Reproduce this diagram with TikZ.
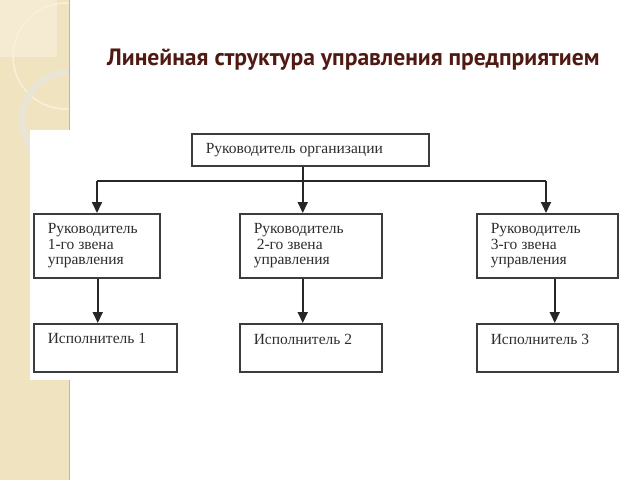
\documentclass[tikz,border=0pt]{standalone}
\usepackage{fontspec}
\setmainfont{Liberation Serif}
\newfontfamily\titlefont{PT Sans}
\usetikzlibrary{arrows.meta, positioning, calc}
\definecolor{stripbeige}{RGB}{240,228,192}
\definecolor{stripfade}{RGB}{244,235,210}
\definecolor{ringgray}{RGB}{234,228,212}
\definecolor{titlebrown}{RGB}{80,26,18}
\definecolor{framegray}{RGB}{60,60,60}
\definecolor{textgray}{RGB}{45,45,45}
\newcommand{\cellbox}[3]{\parbox[c][#2pt][t]{#1pt}{\vspace*{10pt}\raggedright\leftskip=14pt #3\par}}

\begin{document}
\begin{tikzpicture}[x=1pt, y=-1pt,
    cell/.style={draw=framegray, line width=1.5pt, inner sep=0pt, anchor=north west,
      text=textgray, font=\fontsize{15.5}{15.5}\selectfont},
    link/.style={draw=black!85, line width=1.8pt},
    arr/.style={link, -{Triangle[width=10pt, length=11pt]}}]
  \useasboundingbox (0,0) rectangle (640,480);
  % side strip
  \fill[stripbeige] (0,0) rectangle (70,480);
  \fill[stripfade] (0,0) rectangle (57,57);
  \begin{scope}
    \clip (0,0) rectangle (70,480);
    \draw[white!45!stripbeige, line width=1.5pt] (66,56) circle[radius=53];
    \draw[ringgray, line width=7pt] (70,120) circle[radius=48];
  \end{scope}
  \fill[white] (30,130) rectangle (70,380);
  \draw[stripbeige!80!black, line width=0.8pt] (69.5,0) -- (69.5,130) (69.5,380) -- (69.5,480);

  \node[anchor=base west, inner sep=0pt, text=titlebrown,
    font=\titlefont\bfseries\fontsize{23.6}{23.6}\selectfont] (title) at (107,65)
    {Линейная структура управления предприятием};

  \node[cell] (boss) at (191,133) {\cellbox{237}{32}{Руководитель организации}};

  \node[cell] (r1) at (33,213) {\cellbox{126}{64}{Руководитель\\1-го звена\\управления}};
  \node[cell] (r2) at (239,213) {\cellbox{142}{64}{Руководитель\\\hspace*{3pt}2-го звена\\управления}};
  \node[cell] (r3) at (476,213) {\cellbox{141}{64}{Руководитель\\3-го звена\\управления}};

  \node[cell] (e1) at (33,323) {\cellbox{143}{48}{Исполнитель 1}};
  \node[cell] (e2) at (239,323) {\cellbox{142}{48}{Исполнитель 2}};
  \node[cell] (e3) at (476,323) {\cellbox{141}{48}{Исполнитель 3}};

  \coordinate (busl) at (97,181);
  \coordinate (busr) at (546,181);
  \draw[link] (busl) -- (busr);
  \draw[arr] (busl) -- (busl |- r1.north);
  \draw[arr] (busr) -- (busr |- r3.north);
  \draw[arr] ([xshift=-7.5pt]boss.south) -- ([xshift=-7.5pt]boss.south |- r2.north);

  \draw[arr] ([xshift=1pt]r1.south) -- ([xshift=1pt]r1.south |- e1.north);
  \draw[arr] ([xshift=-8pt]r2.south) -- ([xshift=-8pt]r2.south |- e2.north);
  \draw[arr] ([xshift=7.5pt]r3.south) -- ([xshift=7.5pt]r3.south |- e3.north);
\end{tikzpicture}
\end{document}
